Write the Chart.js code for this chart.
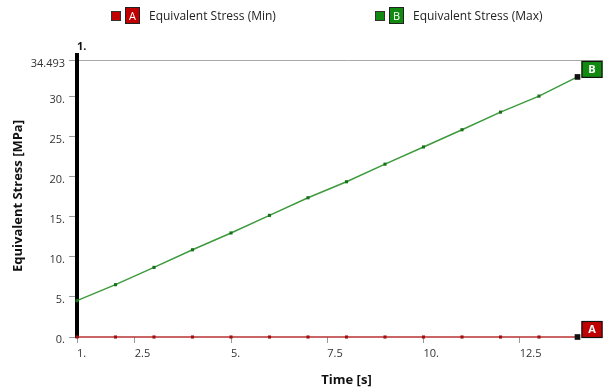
<!DOCTYPE html>
<html>
<head>
<meta charset="utf-8">
<script src="https://cdn.jsdelivr.net/npm/chart.js@4/dist/chart.umd.min.js"></script>
<style>
  html, body { margin: 0; padding: 0; overflow: hidden; background: #fff; }
  #wrap { position: relative; width: 625px; height: 392px; }
  #legend { position: absolute; left: 0; top: 0; width: 603px; height: 30px; font-family: 'Open Sans', sans-serif; font-size: 12px; color: #222; }
  .item { position: absolute; top: 7px; height: 17px; display: flex; align-items: center; }
  .sq { width: 8px; height: 8px; border: 1px solid #333; margin-right: 4px; }
  .badge { width: 13px; height: 15px; border: 1px solid #222; color: #fff; font-size: 11px; line-height: 15px; text-align: center; margin-right: 9px; }
</style>
</head>
<body>
<div id="wrap">
  <canvas id="chart" width="625" height="392"></canvas>
  <div id="legend"></div>
</div>
<script>
const times = [1, 2, 3, 4, 5, 6, 7, 8, 9, 10, 11, 12, 13, 14];
const minStress = [0, 0, 0, 0, 0, 0, 0, 0, 0, 0, 0, 0, 0, 0];
const maxStress = [4.54, 6.54, 8.7, 10.9, 13.0, 15.2, 17.4, 19.4, 21.6, 23.75, 25.9, 28.1, 30.1, 32.5];
const xTicks = [1, 2.5, 5, 7.5, 10, 12.5, 15];
const yTicks = [0, 5, 10, 15, 20, 25, 30, 34.493];
const yMaxLabel = 34.493;

const series = [
  { key: "A", label: "Equivalent Stress (Min)", values: minStress, line: "#b83232", point: "#a01010", badge: "#c00000", legendLeft: 111 },
  { key: "B", label: "Equivalent Stress (Max)", values: maxStress, line: "#3d9a3d", point: "#17701a", badge: "#128a12", legendLeft: 375 }
];

// legend above the plot
const legend = document.getElementById("legend");
series.forEach(s => {
  const el = document.createElement("div");
  el.className = "item";
  el.style.left = s.legendLeft + "px";
  el.innerHTML = `<div class="sq" style="background:${s.badge}"></div>` +
    `<div class="badge" style="background:${s.badge}">${s.key}</div>` +
    `<span>${s.label}</span>`;
  legend.appendChild(el);
});

const fmt = v => {
  if (v === yMaxLabel) return "34.493";
  return Number.isInteger(v) ? v + "." : String(v);
};

// letter boxes next to the last point + "1." above the axis
const markers = {
  id: "markers",
  afterDatasetsDraw(chart) {
    const ctx = chart.ctx;
    ctx.save();
    chart.data.datasets.forEach((ds, i) => {
      const meta = chart.getDatasetMeta(i);
      const last = meta.data[meta.data.length - 1];
      const bx = last.x + 4, by = last.y - 16;
      ctx.fillStyle = series[i].badge;
      ctx.fillRect(bx, by, 21, 17);
      ctx.strokeStyle = "#111";
      ctx.lineWidth = 1.2;
      ctx.strokeRect(bx + 0.5, by + 0.5, 20, 16);
      ctx.fillStyle = "#fff";
      ctx.font = "bold 11px 'Open Sans', sans-serif";
      ctx.textAlign = "center";
      ctx.textBaseline = "middle";
      ctx.fillText(series[i].key, bx + 10.5, by + 9);
    });
    const area = chart.chartArea;
    ctx.fillStyle = "#111";
    ctx.font = "bold 11px 'Open Sans', sans-serif";
    ctx.textAlign = "left";
    ctx.textBaseline = "middle";
    ctx.fillText("1.", area.left, area.top - 8);
    ctx.restore();
  }
};

Chart.defaults.font.family = "'Open Sans', sans-serif";
Chart.defaults.color = "#333";

new Chart(document.getElementById("chart"), {
  type: "line",
  data: {
    datasets: series.map(s => ({
      label: s.label,
      data: times.map((t, i) => ({ x: t, y: s.values[i] })),
      borderColor: s.line,
      borderWidth: 1.5,
      pointStyle: "rect",
      pointRadius: ctx => ctx.dataIndex === times.length - 1 ? 4 : 2.2,
      pointBackgroundColor: ctx => ctx.dataIndex === times.length - 1 ? "#111" : s.point,
      pointBorderWidth: 0,
      clip: false
    }))
  },
  options: {
    responsive: false,
    animation: false,
    events: [],
    layout: { padding: { top: 55, right: 9, left: 0, bottom: 0 } },
    plugins: { legend: { display: false }, tooltip: { enabled: false } },
    scales: {
      x: {
        type: "linear",
        min: 1,
        max: 15,
        afterBuildTicks: scale => { scale.ticks = xTicks.map(v => ({ value: v })); },
        afterFit: scale => { scale.height = 55; scale.paddingLeft = 0; scale.paddingRight = 0; },
        ticks: { font: { size: 11 }, align: "start", padding: 4, callback: v => fmt(v) },
        grid: { drawOnChartArea: false, tickLength: 6, tickColor: "#999" },
        border: { display: false },
        title: { display: true, text: "Time [s]", color: "#111", font: { size: 13, weight: "bold" }, padding: { top: 0, bottom: 4 } }
      },
      y: {
        min: 0,
        max: 35.24,
        afterBuildTicks: scale => { scale.ticks = yTicks.map(v => ({ value: v })); },
        afterFit: scale => { scale.width = 77; scale.paddingTop = 0; scale.paddingBottom = 0; },
        ticks: { font: { size: 11 }, padding: 4, labelOffset: 3, callback: v => fmt(v) },
        grid: {
          color: ctx => ctx.tick && ctx.tick.value === yMaxLabel ? "#a8a8a8" : "rgba(0,0,0,0)",
          tickLength: 8,
          tickColor: "#999"
        },
        border: { display: true, color: "#000", width: 4 },
        title: { display: true, text: "Equivalent Stress [MPa]", color: "#111", font: { size: 13, weight: "bold" }, padding: { top: 10, bottom: 0 } }
      }
    }
  },
  plugins: [markers]
});
</script>
</body>
</html>
